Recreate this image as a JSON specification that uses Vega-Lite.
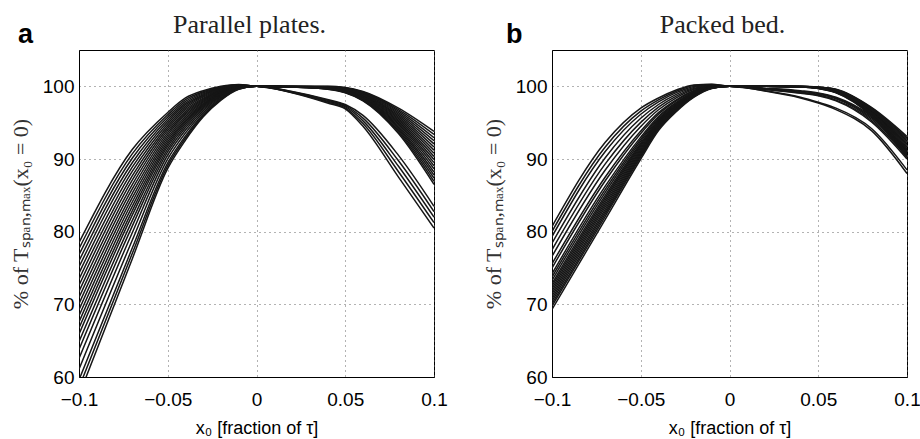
{
"$schema": "https://vega.github.io/schema/vega-lite/v6.json",
"background": "white",
"padding": {"left": 8, "top": 11, "right": 6, "bottom": 0},
"bounds": "flush",
"spacing": 118,
"config": {
  "view": {"stroke": "black", "strokeWidth": 1},
  "axis": {"domainColor": "black", "labelFont": "Liberation Sans", "labelFontSize": 19, "labelColor": "black", "ticks": false, "grid": true, "gridColor": "#666666", "gridDash": [1, 4], "gridWidth": 1, "titleFont": "Liberation Sans", "titleFontSize": 18, "titleFontWeight": "normal", "titleColor": "black"}
},
"datasets": {
"plates": [
{"c":1,"x":-0.1,"y":78.5},{"c":1,"x":-0.07,"y":91.3},{"c":1,"x":-0.05,"y":96.4},{"c":1,"x":-0.04,"y":98.4},{"c":1,"x":-0.03,"y":99.4},{"c":1,"x":-0.02,"y":100.0},{"c":1,"x":-0.01,"y":100.25},{"c":1,"x":0,"y":100},{"c":1,"x":0.02,"y":99.97},{"c":1,"x":0.04,"y":99.88},{"c":1,"x":0.05,"y":99.63},{"c":1,"x":0.06,"y":98.92},{"c":1,"x":0.08,"y":95.97},{"c":1,"x":0.1,"y":91.65},
{"c":2,"x":-0.1,"y":77.66},{"c":2,"x":-0.07,"y":90.7},{"c":2,"x":-0.05,"y":96.09},{"c":2,"x":-0.04,"y":98.17},{"c":2,"x":-0.03,"y":99.26},{"c":2,"x":-0.02,"y":99.92},{"c":2,"x":-0.01,"y":100.22},{"c":2,"x":0,"y":100},{"c":2,"x":0.02,"y":99.93},{"c":2,"x":0.04,"y":99.72},{"c":2,"x":0.05,"y":99.32},{"c":2,"x":0.06,"y":98.38},{"c":2,"x":0.08,"y":94.53},{"c":2,"x":0.1,"y":88.65},
{"c":3,"x":-0.1,"y":76.82},{"c":3,"x":-0.07,"y":90.1},{"c":3,"x":-0.05,"y":95.78},{"c":3,"x":-0.04,"y":97.94},{"c":3,"x":-0.03,"y":99.11},{"c":3,"x":-0.02,"y":99.85},{"c":3,"x":-0.01,"y":100.2},{"c":3,"x":0,"y":100},{"c":3,"x":0.02,"y":100},{"c":3,"x":0.04,"y":100},{"c":3,"x":0.05,"y":99.85},{"c":3,"x":0.06,"y":99.3},{"c":3,"x":0.08,"y":97.0},{"c":3,"x":0.1,"y":93.8},
{"c":4,"x":-0.1,"y":75.98},{"c":4,"x":-0.07,"y":89.49},{"c":4,"x":-0.05,"y":95.48},{"c":4,"x":-0.04,"y":97.7},{"c":4,"x":-0.03,"y":98.97},{"c":4,"x":-0.02,"y":99.77},{"c":4,"x":-0.01,"y":100.17},{"c":4,"x":0,"y":100},{"c":4,"x":0.02,"y":99.2},{"c":4,"x":0.04,"y":97.95},{"c":4,"x":0.05,"y":97.2},{"c":4,"x":0.06,"y":95.25},{"c":4,"x":0.08,"y":89.0},{"c":4,"x":0.1,"y":82.0},
{"c":5,"x":-0.1,"y":75.14},{"c":5,"x":-0.07,"y":88.89},{"c":5,"x":-0.05,"y":95.17},{"c":5,"x":-0.04,"y":97.47},{"c":5,"x":-0.03,"y":98.82},{"c":5,"x":-0.02,"y":99.7},{"c":5,"x":-0.01,"y":100.15},{"c":5,"x":0,"y":100},{"c":5,"x":0.02,"y":99.95},{"c":5,"x":0.04,"y":99.79},{"c":5,"x":0.05,"y":99.45},{"c":5,"x":0.06,"y":98.61},{"c":5,"x":0.08,"y":95.15},{"c":5,"x":0.1,"y":89.94},
{"c":6,"x":-0.1,"y":74.3},{"c":6,"x":-0.07,"y":88.29},{"c":6,"x":-0.05,"y":94.86},{"c":6,"x":-0.04,"y":97.24},{"c":6,"x":-0.03,"y":98.68},{"c":6,"x":-0.02,"y":99.62},{"c":6,"x":-0.01,"y":100.12},{"c":6,"x":0,"y":100},{"c":6,"x":0.02,"y":99.99},{"c":6,"x":0.04,"y":99.95},{"c":6,"x":0.05,"y":99.76},{"c":6,"x":0.06,"y":99.15},{"c":6,"x":0.08,"y":96.59},{"c":6,"x":0.1,"y":92.94},
{"c":7,"x":-0.1,"y":73.46},{"c":7,"x":-0.07,"y":87.69},{"c":7,"x":-0.05,"y":94.55},{"c":7,"x":-0.04,"y":97.01},{"c":7,"x":-0.03,"y":98.54},{"c":7,"x":-0.02,"y":99.54},{"c":7,"x":-0.01,"y":100.09},{"c":7,"x":0,"y":100},{"c":7,"x":0.02,"y":99.91},{"c":7,"x":0.04,"y":99.65},{"c":7,"x":0.05,"y":99.19},{"c":7,"x":0.06,"y":98.15},{"c":7,"x":0.08,"y":93.91},{"c":7,"x":0.1,"y":87.36},
{"c":8,"x":-0.1,"y":72.62},{"c":8,"x":-0.07,"y":87.09},{"c":8,"x":-0.05,"y":94.24},{"c":8,"x":-0.04,"y":96.78},{"c":8,"x":-0.03,"y":98.39},{"c":8,"x":-0.02,"y":99.47},{"c":8,"x":-0.01,"y":100.07},{"c":8,"x":0,"y":100},{"c":8,"x":0.02,"y":99.96},{"c":8,"x":0.04,"y":99.84},{"c":8,"x":0.05,"y":99.54},{"c":8,"x":0.06,"y":98.76},{"c":8,"x":0.08,"y":95.56},{"c":8,"x":0.1,"y":90.79},
{"c":9,"x":-0.1,"y":71.78},{"c":9,"x":-0.07,"y":86.48},{"c":9,"x":-0.05,"y":93.94},{"c":9,"x":-0.04,"y":96.54},{"c":9,"x":-0.03,"y":98.25},{"c":9,"x":-0.02,"y":99.39},{"c":9,"x":-0.01,"y":100.04},{"c":9,"x":0,"y":100},{"c":9,"x":0.02,"y":99.99},{"c":9,"x":0.04,"y":99.98},{"c":9,"x":0.05,"y":99.81},{"c":9,"x":0.06,"y":99.22},{"c":9,"x":0.08,"y":96.79},{"c":9,"x":0.1,"y":93.37},
{"c":10,"x":-0.1,"y":70.94},{"c":10,"x":-0.07,"y":85.88},{"c":10,"x":-0.05,"y":93.63},{"c":10,"x":-0.04,"y":96.31},{"c":10,"x":-0.03,"y":98.1},{"c":10,"x":-0.02,"y":99.32},{"c":10,"x":-0.01,"y":100.02},{"c":10,"x":0,"y":100},{"c":10,"x":0.02,"y":99.3},{"c":10,"x":0.04,"y":98.2},{"c":10,"x":0.05,"y":97.5},{"c":10,"x":0.06,"y":96.0},{"c":10,"x":0.08,"y":90.5},{"c":10,"x":0.1,"y":83.5},
{"c":11,"x":-0.1,"y":70.1},{"c":11,"x":-0.07,"y":85.28},{"c":11,"x":-0.05,"y":93.32},{"c":11,"x":-0.04,"y":96.08},{"c":11,"x":-0.03,"y":97.96},{"c":11,"x":-0.02,"y":99.24},{"c":11,"x":-0.01,"y":99.99},{"c":11,"x":0,"y":100},{"c":11,"x":0.02,"y":99.94},{"c":11,"x":0.04,"y":99.74},{"c":11,"x":0.05,"y":99.36},{"c":11,"x":0.06,"y":98.46},{"c":11,"x":0.08,"y":94.74},{"c":11,"x":0.1,"y":89.08},
{"c":12,"x":-0.1,"y":69.26},{"c":12,"x":-0.07,"y":84.68},{"c":12,"x":-0.05,"y":93.01},{"c":12,"x":-0.04,"y":95.85},{"c":12,"x":-0.03,"y":97.82},{"c":12,"x":-0.02,"y":99.16},{"c":12,"x":-0.01,"y":99.96},{"c":12,"x":0,"y":100},{"c":12,"x":0.02,"y":99.98},{"c":12,"x":0.04,"y":99.91},{"c":12,"x":0.05,"y":99.67},{"c":12,"x":0.06,"y":98.99},{"c":12,"x":0.08,"y":96.18},{"c":12,"x":0.1,"y":92.08},
{"c":13,"x":-0.1,"y":68.42},{"c":13,"x":-0.07,"y":84.08},{"c":13,"x":-0.05,"y":92.7},{"c":13,"x":-0.04,"y":95.62},{"c":13,"x":-0.03,"y":97.67},{"c":13,"x":-0.02,"y":99.09},{"c":13,"x":-0.01,"y":99.94},{"c":13,"x":0,"y":100},{"c":13,"x":0.02,"y":99.9},{"c":13,"x":0.04,"y":99.6},{"c":13,"x":0.05,"y":99.1},{"c":13,"x":0.06,"y":98.0},{"c":13,"x":0.08,"y":93.5},{"c":13,"x":0.1,"y":86.5},
{"c":14,"x":-0.1,"y":67.58},{"c":14,"x":-0.07,"y":83.47},{"c":14,"x":-0.05,"y":92.4},{"c":14,"x":-0.04,"y":95.38},{"c":14,"x":-0.03,"y":97.53},{"c":14,"x":-0.02,"y":99.01},{"c":14,"x":-0.01,"y":99.91},{"c":14,"x":0,"y":100},{"c":14,"x":0.02,"y":99.1},{"c":14,"x":0.04,"y":97.7},{"c":14,"x":0.05,"y":96.9},{"c":14,"x":0.06,"y":94.5},{"c":14,"x":0.08,"y":87.5},{"c":14,"x":0.1,"y":80.5},
{"c":15,"x":-0.1,"y":66.74},{"c":15,"x":-0.07,"y":82.87},{"c":15,"x":-0.05,"y":92.09},{"c":15,"x":-0.04,"y":95.15},{"c":15,"x":-0.03,"y":97.38},{"c":15,"x":-0.02,"y":98.94},{"c":15,"x":-0.01,"y":99.89},{"c":15,"x":0,"y":100},{"c":15,"x":0.02,"y":99.95},{"c":15,"x":0.04,"y":99.81},{"c":15,"x":0.05,"y":99.5},{"c":15,"x":0.06,"y":98.69},{"c":15,"x":0.08,"y":95.35},{"c":15,"x":0.1,"y":90.36},
{"c":16,"x":-0.1,"y":65.9},{"c":16,"x":-0.07,"y":82.27},{"c":16,"x":-0.05,"y":91.78},{"c":16,"x":-0.04,"y":94.92},{"c":16,"x":-0.03,"y":97.24},{"c":16,"x":-0.02,"y":98.86},{"c":16,"x":-0.01,"y":99.86},{"c":16,"x":0,"y":100},{"c":16,"x":0.02,"y":99.92},{"c":16,"x":0.04,"y":99.67},{"c":16,"x":0.05,"y":99.23},{"c":16,"x":0.06,"y":98.23},{"c":16,"x":0.08,"y":94.12},{"c":16,"x":0.1,"y":87.79},
{"c":17,"x":-0.1,"y":64.85},{"c":17,"x":-0.07,"y":81.52},{"c":17,"x":-0.05,"y":91.4},{"c":17,"x":-0.04,"y":94.63},{"c":17,"x":-0.03,"y":97.06},{"c":17,"x":-0.02,"y":98.77},{"c":17,"x":-0.01,"y":99.83},{"c":17,"x":0,"y":100},{"c":17,"x":0.02,"y":99.98},{"c":17,"x":0.04,"y":99.93},{"c":17,"x":0.05,"y":99.72},{"c":17,"x":0.06,"y":99.07},{"c":17,"x":0.08,"y":96.38},{"c":17,"x":0.1,"y":92.51},
{"c":18,"x":-0.1,"y":63.8},{"c":18,"x":-0.07,"y":80.77},{"c":18,"x":-0.05,"y":91.01},{"c":18,"x":-0.04,"y":94.34},{"c":18,"x":-0.03,"y":96.88},{"c":18,"x":-0.02,"y":98.67},{"c":18,"x":-0.01,"y":99.8},{"c":18,"x":0,"y":100},{"c":18,"x":0.02,"y":99.25},{"c":18,"x":0.04,"y":98.08},{"c":18,"x":0.05,"y":97.35},{"c":18,"x":0.06,"y":95.63},{"c":18,"x":0.08,"y":89.75},{"c":18,"x":0.1,"y":82.75},
{"c":19,"x":-0.1,"y":62.54},{"c":19,"x":-0.07,"y":79.86},{"c":19,"x":-0.05,"y":90.55},{"c":19,"x":-0.04,"y":93.99},{"c":19,"x":-0.03,"y":96.66},{"c":19,"x":-0.02,"y":98.56},{"c":19,"x":-0.01,"y":99.76},{"c":19,"x":0,"y":100},{"c":19,"x":0.02,"y":99.94},{"c":19,"x":0.04,"y":99.76},{"c":19,"x":0.05,"y":99.41},{"c":19,"x":0.06,"y":98.54},{"c":19,"x":0.08,"y":94.94},{"c":19,"x":0.1,"y":89.51},
{"c":20,"x":-0.1,"y":61.07},{"c":20,"x":-0.07,"y":78.81},{"c":20,"x":-0.05,"y":90.01},{"c":20,"x":-0.04,"y":93.59},{"c":20,"x":-0.03,"y":96.41},{"c":20,"x":-0.02,"y":98.42},{"c":20,"x":-0.01,"y":99.71},{"c":20,"x":0,"y":100},{"c":20,"x":0.02,"y":99.91},{"c":20,"x":0.04,"y":99.62},{"c":20,"x":0.05,"y":99.14},{"c":20,"x":0.06,"y":98.08},{"c":20,"x":0.08,"y":93.71},{"c":20,"x":0.1,"y":86.93},
{"c":21,"x":-0.1,"y":59.6},{"c":21,"x":-0.07,"y":77.75},{"c":21,"x":-0.05,"y":89.47},{"c":21,"x":-0.04,"y":93.18},{"c":21,"x":-0.03,"y":96.16},{"c":21,"x":-0.02,"y":98.29},{"c":21,"x":-0.01,"y":99.67},{"c":21,"x":0,"y":100},{"c":21,"x":0.02,"y":99.15},{"c":21,"x":0.04,"y":97.83},{"c":21,"x":0.05,"y":97.05},{"c":21,"x":0.06,"y":94.88},{"c":21,"x":0.08,"y":88.25},{"c":21,"x":0.1,"y":81.25},
{"c":22,"x":-0.1,"y":58.55},{"c":22,"x":-0.07,"y":77.0},{"c":22,"x":-0.05,"y":89.09},{"c":22,"x":-0.04,"y":92.89},{"c":22,"x":-0.03,"y":95.98},{"c":22,"x":-0.02,"y":98.2},{"c":22,"x":-0.01,"y":99.63},{"c":22,"x":0,"y":100},{"c":22,"x":0.02,"y":99.96},{"c":22,"x":0.04,"y":99.86},{"c":22,"x":0.05,"y":99.59},{"c":22,"x":0.06,"y":98.84},{"c":22,"x":0.08,"y":95.76},{"c":22,"x":0.1,"y":91.22},
{"c":23,"x":-0.1,"y":57.5},{"c":23,"x":-0.07,"y":76.25},{"c":23,"x":-0.05,"y":88.7},{"c":23,"x":-0.04,"y":92.6},{"c":23,"x":-0.03,"y":95.8},{"c":23,"x":-0.02,"y":98.1},{"c":23,"x":-0.01,"y":99.6},{"c":23,"x":0,"y":100},{"c":23,"x":0.02,"y":99.92},{"c":23,"x":0.04,"y":99.69},{"c":23,"x":0.05,"y":99.28},{"c":23,"x":0.06,"y":98.31},{"c":23,"x":0.08,"y":94.32},{"c":23,"x":0.1,"y":88.22}
],
"bed": [
{"c":1,"x":-0.1,"y":80.7},{"c":1,"x":-0.07,"y":92.3},{"c":1,"x":-0.05,"y":97.0},{"c":1,"x":-0.04,"y":98.4},{"c":1,"x":-0.03,"y":99.5},{"c":1,"x":-0.02,"y":100.2},{"c":1,"x":-0.01,"y":100.3},{"c":1,"x":0,"y":100},{"c":1,"x":0.02,"y":100},{"c":1,"x":0.04,"y":99.98},{"c":1,"x":0.05,"y":99.86},{"c":1,"x":0.06,"y":99.49},{"c":1,"x":0.08,"y":96.84},{"c":1,"x":0.1,"y":92.48},
{"c":2,"x":-0.1,"y":80.02},{"c":2,"x":-0.07,"y":91.66},{"c":2,"x":-0.05,"y":96.58},{"c":2,"x":-0.04,"y":98.13},{"c":2,"x":-0.03,"y":99.32},{"c":2,"x":-0.02,"y":100.1},{"c":2,"x":-0.01,"y":100.26},{"c":2,"x":0,"y":100},{"c":2,"x":0.02,"y":100},{"c":2,"x":0.04,"y":99.93},{"c":2,"x":0.05,"y":99.76},{"c":2,"x":0.06,"y":99.24},{"c":2,"x":0.08,"y":96.24},{"c":2,"x":0.1,"y":91.03},
{"c":3,"x":-0.1,"y":79.33},{"c":3,"x":-0.07,"y":91.03},{"c":3,"x":-0.05,"y":96.16},{"c":3,"x":-0.04,"y":97.86},{"c":3,"x":-0.03,"y":99.14},{"c":3,"x":-0.02,"y":99.99},{"c":3,"x":-0.01,"y":100.23},{"c":3,"x":0,"y":100},{"c":3,"x":0.02,"y":99.7},{"c":3,"x":0.04,"y":99.3},{"c":3,"x":0.05,"y":99.0},{"c":3,"x":0.06,"y":98.4},{"c":3,"x":0.08,"y":95.7},{"c":3,"x":0.1,"y":91.0},
{"c":4,"x":-0.1,"y":78.42},{"c":4,"x":-0.07,"y":90.18},{"c":4,"x":-0.05,"y":95.6},{"c":4,"x":-0.04,"y":97.5},{"c":4,"x":-0.03,"y":98.9},{"c":4,"x":-0.02,"y":99.86},{"c":4,"x":-0.01,"y":100.18},{"c":4,"x":0,"y":100},{"c":4,"x":0.02,"y":100},{"c":4,"x":0.04,"y":100},{"c":4,"x":0.05,"y":99.9},{"c":4,"x":0.06,"y":99.6},{"c":4,"x":0.08,"y":97.1},{"c":4,"x":0.1,"y":93.1},
{"c":5,"x":-0.1,"y":77.51},{"c":5,"x":-0.07,"y":89.33},{"c":5,"x":-0.05,"y":95.04},{"c":5,"x":-0.04,"y":97.14},{"c":5,"x":-0.03,"y":98.66},{"c":5,"x":-0.02,"y":99.72},{"c":5,"x":-0.01,"y":100.13},{"c":5,"x":0,"y":100},{"c":5,"x":0.02,"y":99.4},{"c":5,"x":0.04,"y":98.5},{"c":5,"x":0.05,"y":97.8},{"c":5,"x":0.06,"y":97.0},{"c":5,"x":0.08,"y":94.2},{"c":5,"x":0.1,"y":88.5},
{"c":6,"x":-0.1,"y":76.6},{"c":6,"x":-0.07,"y":88.48},{"c":6,"x":-0.05,"y":94.48},{"c":6,"x":-0.04,"y":96.78},{"c":6,"x":-0.03,"y":98.42},{"c":6,"x":-0.02,"y":99.59},{"c":6,"x":-0.01,"y":100.08},{"c":6,"x":0,"y":100},{"c":6,"x":0.02,"y":100},{"c":6,"x":0.04,"y":99.95},{"c":6,"x":0.05,"y":99.8},{"c":6,"x":0.06,"y":99.35},{"c":6,"x":0.08,"y":96.5},{"c":6,"x":0.1,"y":91.65},
{"c":7,"x":-0.1,"y":75.57},{"c":7,"x":-0.07,"y":87.53},{"c":7,"x":-0.05,"y":93.85},{"c":7,"x":-0.04,"y":96.38},{"c":7,"x":-0.03,"y":98.15},{"c":7,"x":-0.02,"y":99.44},{"c":7,"x":-0.01,"y":100.03},{"c":7,"x":0,"y":100},{"c":7,"x":0.02,"y":99.6},{"c":7,"x":0.04,"y":99.1},{"c":7,"x":0.05,"y":98.8},{"c":7,"x":0.06,"y":98.1},{"c":7,"x":0.08,"y":95.3},{"c":7,"x":0.1,"y":90.3},
{"c":8,"x":-0.1,"y":75.0},{"c":8,"x":-0.07,"y":87.0},{"c":8,"x":-0.05,"y":93.5},{"c":8,"x":-0.04,"y":96.15},{"c":8,"x":-0.03,"y":98.0},{"c":8,"x":-0.02,"y":99.35},{"c":8,"x":-0.01,"y":100.0},{"c":8,"x":0,"y":100},{"c":8,"x":0.02,"y":100},{"c":8,"x":0.04,"y":99.96},{"c":8,"x":0.05,"y":99.81},{"c":8,"x":0.06,"y":99.39},{"c":8,"x":0.08,"y":96.59},{"c":8,"x":0.1,"y":91.86},
{"c":9,"x":-0.1,"y":74.2},{"c":9,"x":-0.07,"y":86.26},{"c":9,"x":-0.05,"y":93.01},{"c":9,"x":-0.04,"y":95.84},{"c":9,"x":-0.03,"y":97.79},{"c":9,"x":-0.02,"y":99.23},{"c":9,"x":-0.01,"y":99.96},{"c":9,"x":0,"y":100},{"c":9,"x":0.02,"y":100},{"c":9,"x":0.04,"y":99.91},{"c":9,"x":0.05,"y":99.73},{"c":9,"x":0.06,"y":99.17},{"c":9,"x":0.08,"y":96.07},{"c":9,"x":0.1,"y":90.61},
{"c":10,"x":-0.1,"y":73.75},{"c":10,"x":-0.07,"y":85.83},{"c":10,"x":-0.05,"y":92.73},{"c":10,"x":-0.04,"y":95.66},{"c":10,"x":-0.03,"y":97.67},{"c":10,"x":-0.02,"y":99.16},{"c":10,"x":-0.01,"y":99.93},{"c":10,"x":0,"y":100},{"c":10,"x":0.02,"y":100},{"c":10,"x":0.04,"y":99.99},{"c":10,"x":0.05,"y":99.89},{"c":10,"x":0.06,"y":99.56},{"c":10,"x":0.08,"y":97.01},{"c":10,"x":0.1,"y":92.89},
{"c":11,"x":-0.1,"y":73.29},{"c":11,"x":-0.07,"y":85.41},{"c":11,"x":-0.05,"y":92.45},{"c":11,"x":-0.04,"y":95.48},{"c":11,"x":-0.03,"y":97.55},{"c":11,"x":-0.02,"y":99.1},{"c":11,"x":-0.01,"y":99.91},{"c":11,"x":0,"y":100},{"c":11,"x":0.02,"y":99.75},{"c":11,"x":0.04,"y":99.4},{"c":11,"x":0.05,"y":99.1},{"c":11,"x":0.06,"y":98.5},{"c":11,"x":0.08,"y":95.9},{"c":11,"x":0.1,"y":91.3},
{"c":12,"x":-0.1,"y":72.83},{"c":12,"x":-0.07,"y":84.99},{"c":12,"x":-0.05,"y":92.17},{"c":12,"x":-0.04,"y":95.3},{"c":12,"x":-0.03,"y":97.43},{"c":12,"x":-0.02,"y":99.03},{"c":12,"x":-0.01,"y":99.89},{"c":12,"x":0,"y":100},{"c":12,"x":0.02,"y":100},{"c":12,"x":0.04,"y":99.96},{"c":12,"x":0.05,"y":99.83},{"c":12,"x":0.06,"y":99.42},{"c":12,"x":0.08,"y":96.67},{"c":12,"x":0.1,"y":92.06},
{"c":13,"x":-0.1,"y":72.49},{"c":13,"x":-0.07,"y":84.67},{"c":13,"x":-0.05,"y":91.96},{"c":13,"x":-0.04,"y":95.16},{"c":13,"x":-0.03,"y":97.34},{"c":13,"x":-0.02,"y":98.98},{"c":13,"x":-0.01,"y":99.87},{"c":13,"x":0,"y":100},{"c":13,"x":0.02,"y":100},{"c":13,"x":0.04,"y":99.9},{"c":13,"x":0.05,"y":99.7},{"c":13,"x":0.06,"y":99.1},{"c":13,"x":0.08,"y":95.9},{"c":13,"x":0.1,"y":90.2},
{"c":14,"x":-0.1,"y":72.15},{"c":14,"x":-0.07,"y":84.35},{"c":14,"x":-0.05,"y":91.75},{"c":14,"x":-0.04,"y":95.03},{"c":14,"x":-0.03,"y":97.25},{"c":14,"x":-0.02,"y":98.93},{"c":14,"x":-0.01,"y":99.85},{"c":14,"x":0,"y":100},{"c":14,"x":0.02,"y":99.35},{"c":14,"x":0.04,"y":98.4},{"c":14,"x":0.05,"y":97.7},{"c":14,"x":0.06,"y":96.8},{"c":14,"x":0.08,"y":93.9},{"c":14,"x":0.1,"y":88.0},
{"c":15,"x":-0.1,"y":71.81},{"c":15,"x":-0.07,"y":84.03},{"c":15,"x":-0.05,"y":91.54},{"c":15,"x":-0.04,"y":94.89},{"c":15,"x":-0.03,"y":97.16},{"c":15,"x":-0.02,"y":98.87},{"c":15,"x":-0.01,"y":99.83},{"c":15,"x":0,"y":100},{"c":15,"x":0.02,"y":100},{"c":15,"x":0.04,"y":99.94},{"c":15,"x":0.05,"y":99.79},{"c":15,"x":0.06,"y":99.31},{"c":15,"x":0.08,"y":96.41},{"c":15,"x":0.1,"y":91.44},
{"c":16,"x":-0.1,"y":71.47},{"c":16,"x":-0.07,"y":83.71},{"c":16,"x":-0.05,"y":91.33},{"c":16,"x":-0.04,"y":94.76},{"c":16,"x":-0.03,"y":97.07},{"c":16,"x":-0.02,"y":98.82},{"c":16,"x":-0.01,"y":99.81},{"c":16,"x":0,"y":100},{"c":16,"x":0.02,"y":100},{"c":16,"x":0.04,"y":99.99},{"c":16,"x":0.05,"y":99.87},{"c":16,"x":0.06,"y":99.53},{"c":16,"x":0.08,"y":96.93},{"c":16,"x":0.1,"y":92.69},
{"c":17,"x":-0.1,"y":71.12},{"c":17,"x":-0.07,"y":83.4},{"c":17,"x":-0.05,"y":91.12},{"c":17,"x":-0.04,"y":94.62},{"c":17,"x":-0.03,"y":96.98},{"c":17,"x":-0.02,"y":98.77},{"c":17,"x":-0.01,"y":99.8},{"c":17,"x":0,"y":100},{"c":17,"x":0.02,"y":99.65},{"c":17,"x":0.04,"y":99.2},{"c":17,"x":0.05,"y":98.9},{"c":17,"x":0.06,"y":98.3},{"c":17,"x":0.08,"y":95.5},{"c":17,"x":0.1,"y":90.6},
{"c":18,"x":-0.1,"y":70.78},{"c":18,"x":-0.07,"y":83.08},{"c":18,"x":-0.05,"y":90.91},{"c":18,"x":-0.04,"y":94.49},{"c":18,"x":-0.03,"y":96.89},{"c":18,"x":-0.02,"y":98.72},{"c":18,"x":-0.01,"y":99.78},{"c":18,"x":0,"y":100},{"c":18,"x":0.02,"y":100},{"c":18,"x":0.04,"y":99.92},{"c":18,"x":0.05,"y":99.74},{"c":18,"x":0.06,"y":99.21},{"c":18,"x":0.08,"y":96.16},{"c":18,"x":0.1,"y":90.82},
{"c":19,"x":-0.1,"y":70.44},{"c":19,"x":-0.07,"y":82.76},{"c":19,"x":-0.05,"y":90.7},{"c":19,"x":-0.04,"y":94.35},{"c":19,"x":-0.03,"y":96.8},{"c":19,"x":-0.02,"y":98.67},{"c":19,"x":-0.01,"y":99.76},{"c":19,"x":0,"y":100},{"c":19,"x":0.02,"y":100},{"c":19,"x":0.04,"y":99.97},{"c":19,"x":0.05,"y":99.84},{"c":19,"x":0.06,"y":99.46},{"c":19,"x":0.08,"y":96.76},{"c":19,"x":0.1,"y":92.27},
{"c":20,"x":-0.1,"y":70.1},{"c":20,"x":-0.07,"y":82.44},{"c":20,"x":-0.05,"y":90.49},{"c":20,"x":-0.04,"y":94.22},{"c":20,"x":-0.03,"y":96.71},{"c":20,"x":-0.02,"y":98.62},{"c":20,"x":-0.01,"y":99.74},{"c":20,"x":0,"y":100},{"c":20,"x":0.02,"y":99.55},{"c":20,"x":0.04,"y":99.05},{"c":20,"x":0.05,"y":98.7},{"c":20,"x":0.06,"y":98.0},{"c":20,"x":0.08,"y":95.1},{"c":20,"x":0.1,"y":90.0},
{"c":21,"x":-0.1,"y":69.76},{"c":21,"x":-0.07,"y":82.12},{"c":21,"x":-0.05,"y":90.28},{"c":21,"x":-0.04,"y":94.08},{"c":21,"x":-0.03,"y":96.62},{"c":21,"x":-0.02,"y":98.57},{"c":21,"x":-0.01,"y":99.72},{"c":21,"x":0,"y":100},{"c":21,"x":0.02,"y":100},{"c":21,"x":0.04,"y":99.94},{"c":21,"x":0.05,"y":99.77},{"c":21,"x":0.06,"y":99.28},{"c":21,"x":0.08,"y":96.33},{"c":21,"x":0.1,"y":91.24},
{"c":22,"x":-0.1,"y":69.3},{"c":22,"x":-0.07,"y":81.7},{"c":22,"x":-0.05,"y":90.0},{"c":22,"x":-0.04,"y":93.9},{"c":22,"x":-0.03,"y":96.5},{"c":22,"x":-0.02,"y":98.5},{"c":22,"x":-0.01,"y":99.7},{"c":22,"x":0,"y":100},{"c":22,"x":0.02,"y":100},{"c":22,"x":0.04,"y":99.91},{"c":22,"x":0.05,"y":99.71},{"c":22,"x":0.06,"y":99.14},{"c":22,"x":0.08,"y":95.99},{"c":22,"x":0.1,"y":90.41}
]
},
"hconcat": [
{
  "width": 355, "height": 327,
  "title": {"text": "Parallel plates.", "font": "Liberation Serif", "fontSize": 26, "fontWeight": "normal", "color": "#222222", "anchor": "middle", "frame": "group", "dx": -7, "offset": -17},
  "layer": [
    {"data": {"name": "plates"},
     "mark": {"type": "line", "interpolate": "monotone", "clip": true, "strokeWidth": 1.5, "color": "#161616"},
     "encoding": {
       "x": {"field": "x", "type": "quantitative", "scale": {"domain": [-0.1, 0.1], "nice": false, "zero": false},
             "axis": {"values": [-0.1, -0.05, 0, 0.05, 0.1], "format": "~g", "title": "x₀ [fraction of τ]", "labelPadding": 13, "titlePadding": 10, "labelFlush": false}},
       "y": {"field": "y", "type": "quantitative", "scale": {"domain": [60, 105], "nice": false, "zero": false},
             "axis": {"values": [60, 70, 80, 90, 100], "title": "% of Tₛₚₐₙ,ₘₐₓ(x₀ = 0)", "titleFont": "Liberation Serif", "titleFontSize": 22, "titleColor": "#333333", "labelPadding": 5, "titlePadding": 10}},
       "detail": {"field": "c", "type": "nominal"}
     }},
    {"data": {"values": [{"lab": "a"}]},
     "mark": {"type": "text", "font": "Liberation Sans", "fontWeight": "bold", "fontSize": 27, "align": "left", "baseline": "alphabetic", "dx": -61, "dy": -7, "clip": false, "color": "black"},
     "encoding": {"x": {"datum": -0.1}, "y": {"datum": 105}, "text": {"field": "lab"}}}
  ]
},
{
  "width": 355, "height": 327,
  "title": {"text": "Packed bed.", "font": "Liberation Serif", "fontSize": 26, "fontWeight": "normal", "color": "#222222", "anchor": "middle", "frame": "group", "dx": -7, "offset": -17},
  "layer": [
    {"data": {"name": "bed"},
     "mark": {"type": "line", "interpolate": "monotone", "clip": true, "strokeWidth": 1.5, "color": "#161616"},
     "encoding": {
       "x": {"field": "x", "type": "quantitative", "scale": {"domain": [-0.1, 0.1], "nice": false, "zero": false},
             "axis": {"values": [-0.1, -0.05, 0, 0.05, 0.1], "format": "~g", "title": "x₀ [fraction of τ]", "labelPadding": 13, "titlePadding": 10, "labelFlush": false}},
       "y": {"field": "y", "type": "quantitative", "scale": {"domain": [60, 105], "nice": false, "zero": false},
             "axis": {"values": [60, 70, 80, 90, 100], "title": "% of Tₛₚₐₙ,ₘₐₓ(x₀ = 0)", "titleFont": "Liberation Serif", "titleFontSize": 22, "titleColor": "#333333", "labelPadding": 5, "titlePadding": 10}},
       "detail": {"field": "c", "type": "nominal"}
     }},
    {"data": {"values": [{"lab": "b"}]},
     "mark": {"type": "text", "font": "Liberation Sans", "fontWeight": "bold", "fontSize": 27, "align": "left", "baseline": "alphabetic", "dx": -46, "dy": -7, "clip": false, "color": "black"},
     "encoding": {"x": {"datum": -0.1}, "y": {"datum": 105}, "text": {"field": "lab"}}}
  ]
}
]
}
